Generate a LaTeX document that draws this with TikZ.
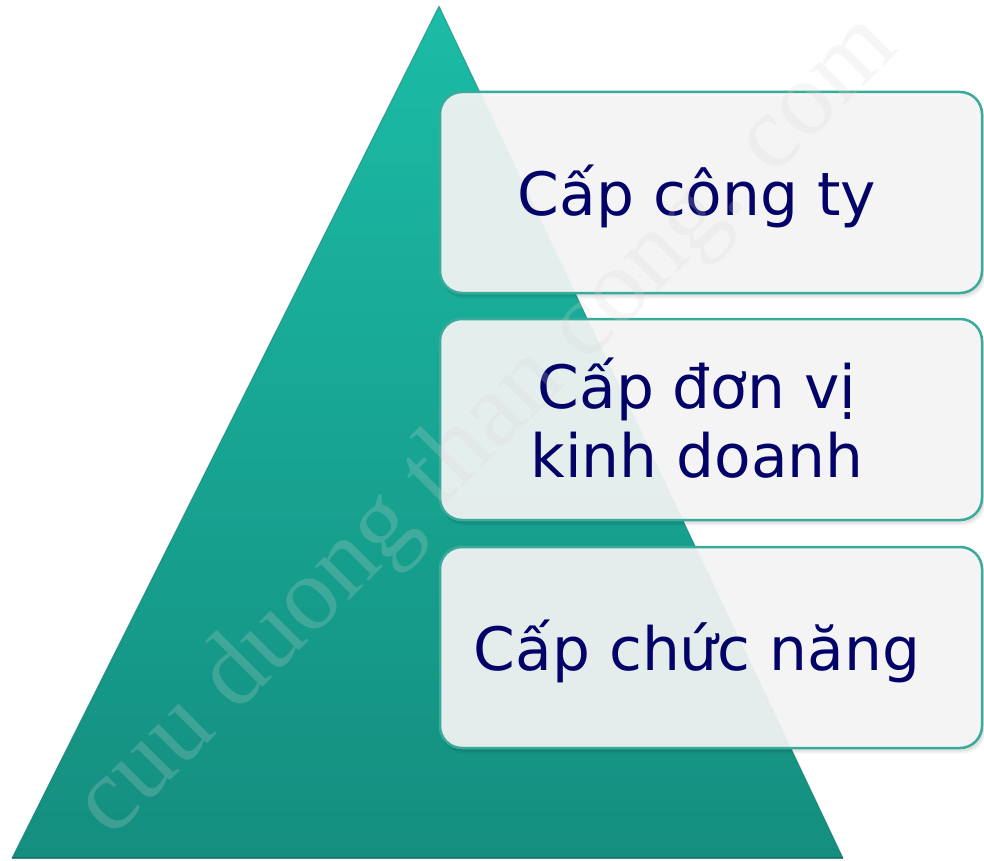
\documentclass[tikz,border=0pt]{standalone}
\usepackage{fontspec}
\setmainfont{DejaVu Sans}
\newfontfamily\wmfont{Liberation Serif}
\begin{document}
\begin{tikzpicture}[x=1bp,y=-1bp]
\definecolor{tealtop}{RGB}{27,188,166}
\definecolor{tealbot}{RGB}{20,142,127}
\definecolor{boxline}{RGB}{58,170,155}
\definecolor{navytext}{RGB}{2,2,104}
\definecolor{boxfill}{RGB}{246,246,246}
\definecolor{wmgray}{RGB}{215,215,215}
\tikzset{
  lvlbox/.style={draw=boxline, line width=2.5bp, rounded corners=22bp,
    fill=boxfill, fill opacity=0.92, draw opacity=1,
    minimum width=542bp, minimum height=201bp, inner sep=0pt},
  lvlshadow/.style={fill=black, rounded corners=22bp},
  lvltext/.style={text=navytext, anchor=base, inner sep=0pt,
    font=\fontsize{60}{69}\selectfont},
  watermark/.style={text=wmgray, text opacity=0.22, rotate=45, inner sep=0pt,
    font=\wmfont\fontsize{105}{105}\selectfont}
}
\useasboundingbox (0,0) rectangle (984,861);
\fill[white] (0,0) rectangle (984,861);
% pyramid
\coordinate (apex) at (439,6);
\coordinate (bl) at (12,858);
\coordinate (br) at (843,858);
\shade[top color=tealtop, bottom color=tealbot] (apex) -- (br) -- (bl) -- cycle;
\draw[tealbot!75!black, line width=1bp, opacity=0.45, line join=round] (apex) -- (br) -- (bl) -- cycle;
\draw[tealbot!70!black, line width=2bp, opacity=0.6] (bl) -- (br);
% box shadows
\foreach \y in {192.5,419.5,647.5}{
  \fill[lvlshadow, opacity=0.05] (442,\y-96) rectangle (985,\y+106);
  \fill[lvlshadow, opacity=0.06] (441,\y-97) rectangle (984,\y+104);
}
% boxes
\node[lvlbox] (b1) at (711,192.5) {};
\node[lvlbox] (b2) at (711,419.5) {};
\node[lvlbox] (b3) at (711,647.5) {};
% texts
\node[lvltext] (t1) at (697,215) {Cấp công ty};
\node[lvltext] (t2a) at (697,408) {Cấp đơn vị};
\node[lvltext] (t2b) at (697,477) {kinh doanh};
\node[lvltext] (t3) at (697,670) {Cấp chức năng};
% watermark
\node[watermark] (wm) at (488,427) {cuu duong than cong. com};
\end{tikzpicture}
\end{document}
